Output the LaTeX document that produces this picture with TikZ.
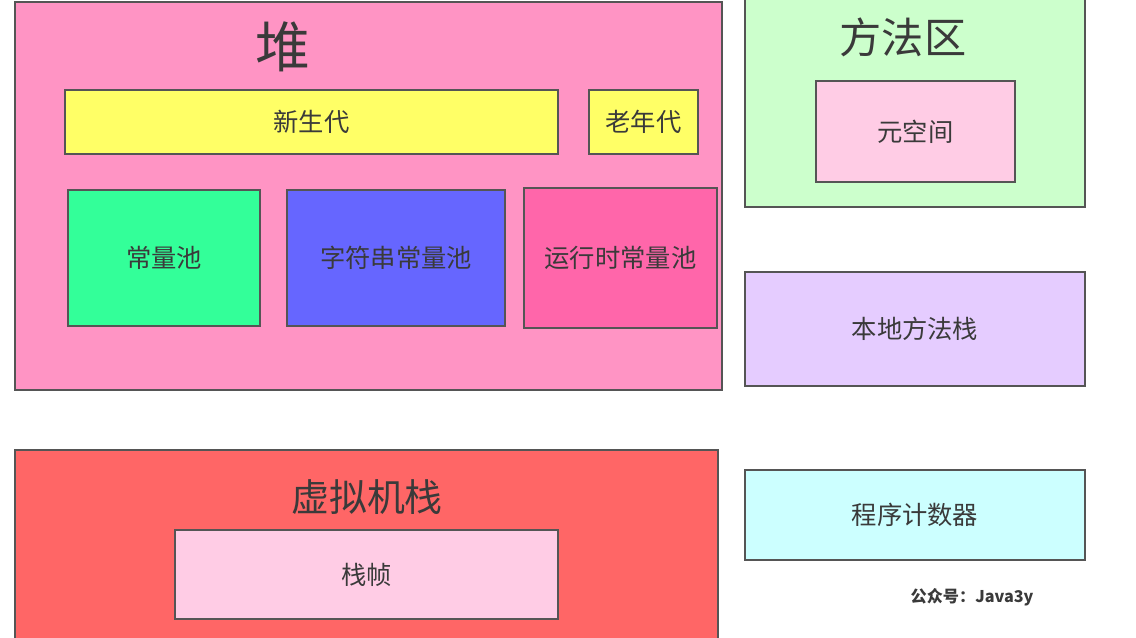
\documentclass[tikz,border=0pt]{standalone}
\usepackage{fontspec}
\setmainfont{Noto Sans CJK SC}
\newlength\px
\setlength\px{0.025cm}
\definecolor{heapcol}{HTML}{FF94C4}
\definecolor{youngcol}{HTML}{FFFF66}
\definecolor{constcol}{HTML}{33FF99}
\definecolor{strcol}{HTML}{6666FF}
\definecolor{runcol}{HTML}{FF66AA}
\definecolor{methodcol}{HTML}{CCFFCC}
\definecolor{metacol}{HTML}{FFCCE5}
\definecolor{nativecol}{HTML}{E5CCFF}
\definecolor{pccol}{HTML}{CCFFFF}
\definecolor{vmcol}{HTML}{FF6666}
\definecolor{edgecol}{HTML}{555555}
\definecolor{txtcol}{HTML}{3A3A3A}
\tikzset{
  area/.style={draw=edgecol, line width=1.3pt, inner sep=0pt, outer sep=0pt},
  title/.style={text=txtcol, font=\fontsize{30}{34}\selectfont},
  label/.style={text=txtcol, font=\fontsize{18}{21}\selectfont}
}
\begin{document}
\begin{tikzpicture}[x=0.025cm,y=-0.025cm]
	\useasboundingbox (0,0) rectangle (1136,637);
	\clip (0,0) rectangle (1136,637);
	\fill[white] (0,0) rectangle (1136,637);

	% heap
	\node[area,fill=heapcol,minimum width=707\px,minimum height=388\px] (heap) at (368.5,196) {};
	\node[title,font=\fontsize{39}{42}\selectfont] (heapt) at (283,47) {堆};
	\node[area,fill=youngcol,minimum width=493\px,minimum height=64\px,label] (young) at (311.5,122) {新生代};
	\node[area,fill=youngcol,minimum width=109\px,minimum height=64\px,label] (old) at (643.5,122) {老年代};
	\node[area,fill=constcol,minimum width=192\px,minimum height=136\px,label] (cpool) at (164,258) {常量池};
	\node[area,fill=strcol,minimum width=218\px,minimum height=136\px,label] (spool) at (396,258) {字符串常量池};
	\node[area,fill=runcol,minimum width=193\px,minimum height=140\px,label] (rpool) at (620.5,258) {运行时常量池};

	% method area
	\node[area,fill=methodcol,minimum width=340\px,minimum height=227\px] (method) at (915,93.5) {};
	\node[title] (methodt) at (903,37) {方法区};
	\node[area,fill=metacol,minimum width=199\px,minimum height=101\px,label] (meta) at (915.5,131.5) {元空间};

	\node[area,fill=nativecol,minimum width=340\px,minimum height=114\px,label] (native) at (915,329) {本地方法栈};
	\node[area,fill=pccol,minimum width=340\px,minimum height=90\px,label] (pc) at (915,515) {程序计数器};

	% vm stack
	\node[area,fill=vmcol,minimum width=703\px,minimum height=210\px] (vm) at (366.5,555) {};
	\node[title,font=\fontsize{27}{30}\selectfont] (vmt) at (367,497) {虚拟机栈};
	\node[area,fill=metacol,minimum width=383\px,minimum height=89\px,label] (frame) at (366.5,574.5) {栈帧};

	\node[text=txtcol,font=\bfseries\fontsize{11.5}{13}\selectfont] (mark) at (972,597) {公众号：Java3y};
\end{tikzpicture}
\end{document}
